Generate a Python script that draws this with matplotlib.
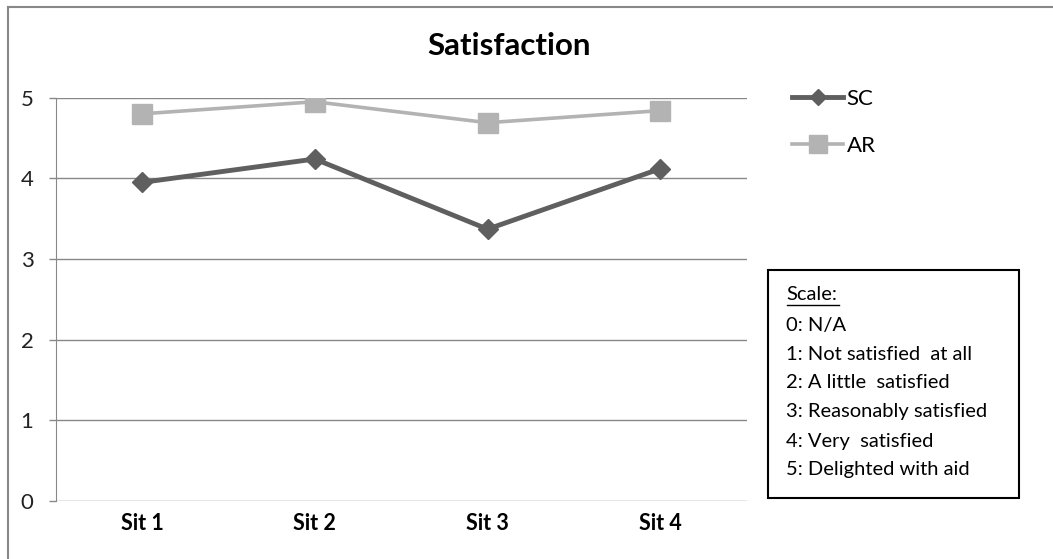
import matplotlib
matplotlib.use("Agg")
import matplotlib.pyplot as plt
from matplotlib.lines import Line2D
from matplotlib.patches import Rectangle

plt.rcParams["font.family"] = ["Lato", "DejaVu Sans"]

# data
situations = ["Sit 1", "Sit 2", "Sit 3", "Sit 4"]
sc_values = [3.95, 4.24, 3.37, 4.12]
ar_values = [4.80, 4.95, 4.69, 4.84]
yticks = [0, 1, 2, 3, 4, 5]
scale_lines = ["0: N/A", "1: Not satisfied  at all", "2: A little  satisfied",
               "3: Reasonably satisfied", "4: Very  satisfied", "5: Delighted with aid"]

W, H = 1053, 559
fig = plt.figure(figsize=(W / 100, H / 100), dpi=100)
ax = fig.add_axes([55.7 / W, 1 - 501 / H, 691 / W, 403.3 / H])

x = list(range(len(situations)))
ax.plot(x, sc_values, color="#5f5f5f", lw=3.5, marker="D", ms=10, label="SC")
ax.plot(x, ar_values, color="#b3b3b3", lw=2.6, marker="s", ms=14.5, label="AR")

ax.set_xlim(-0.5, len(situations) - 0.5)
ax.set_ylim(0, 5)
ax.set_yticks(yticks)
ax.set_yticklabels([str(v) for v in yticks], fontsize=16, color="#222222")
ax.set_xticks(x)
ax.set_xticklabels(situations, fontsize=15.5, fontweight="bold")
ax.yaxis.grid(True, color="#888888", lw=1)
ax.set_axisbelow(True)
for s in ("top", "right", "bottom"):
    ax.spines[s].set_visible(False)
ax.spines["left"].set_color("#888888")
ax.tick_params(axis="y", length=5, width=1, color="#888888", pad=11)
ax.tick_params(axis="x", length=0, pad=9)

fig.text(509.5 / W, 1 - 46 / H, "Satisfaction", ha="center", va="center",
         fontsize=22.5, fontweight="bold")

# legend placed like the Excel one
leg = ax.legend(loc="upper left", bbox_to_anchor=(792 / W, 1 - 89 / H),
                bbox_transform=fig.transFigure, frameon=False, fontsize=16,
                handlelength=2.3, handletextpad=0.15, labelspacing=1.2,
                borderaxespad=0, borderpad=0, markerscale=0.85)

# chart area border (only top and left show in the crop)
fig.add_artist(Line2D([8 / W, 1052 / W], [1 - 6.5 / H, 1 - 6.5 / H],
                      transform=fig.transFigure, color="#888888", lw=1.5))
fig.add_artist(Line2D([8 / W, 8 / W], [1 - 6.5 / H, 0],
                      transform=fig.transFigure, color="#888888", lw=1.5))

# scale box
fig.add_artist(Rectangle((768 / W, 1 - 498 / H), 251 / W, 228 / H,
                         transform=fig.transFigure, fill=False,
                         edgecolor="black", lw=1.5))
fig.text(786.5 / W, 1 - 295 / H, "Scale:", fontsize=14.5, va="center")
fig.add_artist(Line2D([786.5 / W, 839 / W], [1 - 304.5 / H, 1 - 304.5 / H],
                      transform=fig.transFigure, color="black", lw=1))
for i, line in enumerate(scale_lines):
    fig.text(786.5 / W, 1 - (325 + 29 * i) / H, line, fontsize=14.5, va="center")

fig.savefig("out.png", dpi=100)
